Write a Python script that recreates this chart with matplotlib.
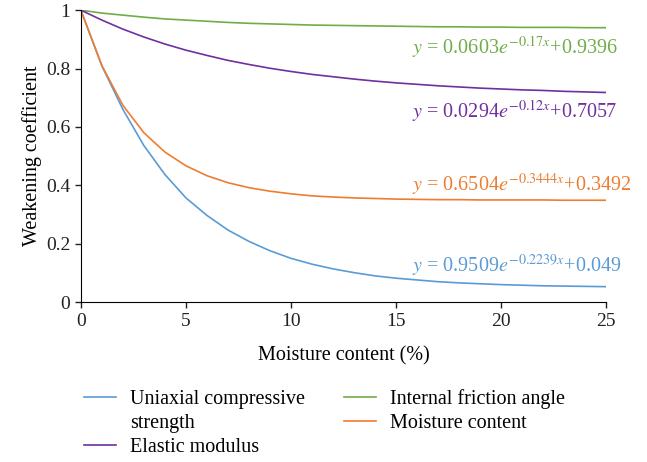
import matplotlib
matplotlib.use('Agg')
import matplotlib.pyplot as plt
from matplotlib.lines import Line2D

plt.rcParams['font.family'] = ['Liberation Serif', 'DejaVu Serif']
plt.rcParams['mathtext.fontset'] = 'stix'

moisture = list(range(26))
ucs = [1.0, 0.809, 0.660, 0.536, 0.437, 0.357, 0.297, 0.247, 0.208, 0.176,
       0.150, 0.130, 0.114, 0.101, 0.090, 0.082, 0.076, 0.070, 0.066, 0.063,
       0.060, 0.058, 0.056, 0.055, 0.054, 0.053]
friction = [1.0, 0.990, 0.983, 0.976, 0.970, 0.966, 0.962, 0.958, 0.955, 0.953,
            0.951, 0.949, 0.948, 0.947, 0.946, 0.945, 0.944, 0.943, 0.943, 0.942,
            0.942, 0.941, 0.941, 0.941, 0.940, 0.940]
elastic = [1.0, 0.966, 0.935, 0.908, 0.884, 0.863, 0.845, 0.828, 0.814, 0.801,
           0.790, 0.780, 0.772, 0.764, 0.757, 0.751, 0.746, 0.741, 0.737, 0.733,
           0.730, 0.727, 0.725, 0.722, 0.720, 0.718]
water = [1.0, 0.810, 0.674, 0.580, 0.514, 0.467, 0.433, 0.409, 0.392, 0.380,
         0.371, 0.364, 0.360, 0.357, 0.355, 0.353, 0.352, 0.351, 0.351, 0.350,
         0.350, 0.350, 0.350, 0.349, 0.349, 0.349]

blue, green, purple, orange = '#5b9bd5', '#70ad47', '#7030a0', '#ed7d31'

fig = plt.figure(figsize=(6.47, 4.62), dpi=100)
ax = fig.add_axes([0.125, 0.346, 0.812, 0.632])

l1, = ax.plot(moisture, ucs, color=blue, lw=1.2)
l3, = ax.plot(moisture, friction, color=green, lw=1.2)
l2, = ax.plot(moisture, elastic, color=purple, lw=1.2)
l4, = ax.plot(moisture, water, color=orange, lw=1.2)

ax.set_xlim(0, 25)
ax.set_ylim(0, 1)
ax.set_xticks([0, 5, 10, 15, 20, 25])
ax.set_yticks([0, 0.2, 0.4, 0.6, 0.8, 1])
ax.set_yticklabels(['0', '0.2', '0.4', '0.6', '0.8', '1'])
ax.spines['top'].set_visible(False)
ax.spines['right'].set_visible(False)
ax.tick_params(labelsize=14, length=4, width=1, colors='#222222')
ax.set_xlabel('Moisture content (%)', fontsize=14.5, labelpad=12)
ax.set_ylabel('Weakening coefficient', fontsize=14.5, labelpad=3)

eq_x = 15.75
fs = 14.5
ax.text(eq_x, 0.875, r'$y$ = 0.0603$e^{-0.17x}$+0.9396', color=green, fontsize=fs, va='center')
ax.text(eq_x, 0.655, r'$y$ = 0.0294$e^{-0.12x}$+0.7057', color=purple, fontsize=fs, va='center')
ax.text(eq_x, 0.40, r'$y$ = 0.6504$e^{-0.3444x}$+0.3492', color=orange, fontsize=fs, va='center')
ax.text(eq_x, 0.125, r'$y$ = 0.9509$e^{-0.2239x}$+0.049', color=blue, fontsize=fs, va='center')

# second line of the long label gets an empty handle so rows line up
blank = Line2D([], [], color='none')
handles = [l1, blank, l2, l3, l4]
labels = ['Uniaxial compressive', 'strength', 'Elastic modulus',
          'Internal friction angle', 'Moisture content']
fig.legend(handles, labels, loc='upper left', bbox_to_anchor=(0.130, 0.158),
           ncol=2, frameon=False, fontsize=14.5, handlelength=1.6, handletextpad=0.7,
           columnspacing=1.9, labelspacing=0.25, borderaxespad=0, borderpad=0)

fig.savefig('out.png', dpi=100)
